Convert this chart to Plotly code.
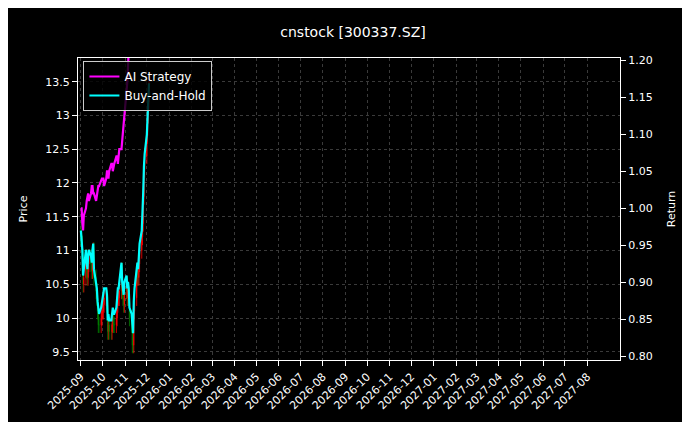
import pandas as pd
import plotly.graph_objects as go

close = [11.2,11.1,10.9,10.5,10.6,10.9,10.7,10.6,10.8,10.9,
         10.8,10.7,10.9,11.0,10.6,10.4,10.3,10.1,9.9,9.9,
         10.0,10.1,10.1,10.2,10.3,10.3,10.2,9.8,9.9,9.8,
         9.8,9.9,10.0,9.9,9.9,10.0,10.2,10.3,10.3,10.4,
         10.7,10.4,10.3,10.2,10.4,10.5,10.3,10.4,10.3,10.0,
         9.9,9.6,9.6,10.1,10.3,10.6,10.7,10.6,10.8,11.0,
         11.2,11.4,11.8,12.2,12.4,12.7,13.0,13.2,13.5]
ai = [1.00,1.00,0.98,0.97,0.99,1.00,1.01,1.02,1.02,1.01,
      1.02,1.03,1.03,1.02,1.02,1.01,1.02,1.03,1.03,1.03,
      1.04,1.04,1.04,1.04,1.03,1.04,1.05,1.05,1.04,1.05,
      1.06,1.06,1.05,1.06,1.06,1.07,1.07,1.06,1.07,1.08,
      1.08,1.09,1.10,1.12,1.13,1.15,1.17,1.19,1.21,1.24,
      1.25,1.25,1.25,1.27,1.28,1.30,1.31,1.30,1.32,1.34,
      1.36,1.38,1.41,1.45,1.47,1.50,1.54,1.56,1.60]
base_price = 11.55
dates = pd.bdate_range("2025-09-01", periods=len(close))
opens = [close[0] + 0.1] + close[:-1]
high = [max(o, c) + 0.12 for o, c in zip(opens, close)]
low = [min(o, c) - 0.12 for o, c in zip(opens, close)]
bh = [c / base_price for c in close]
ticks = pd.date_range("2025-09-01", "2027-08-01", freq="MS")

fig = go.Figure()
fig.add_trace(go.Candlestick(x=dates, open=opens, high=high, low=low, close=close,
    increasing=dict(line=dict(color="red", width=0.8), fillcolor="red"),
    decreasing=dict(line=dict(color="green", width=0.8), fillcolor="green"),
    showlegend=False, whiskerwidth=0))
fig.add_trace(go.Scatter(x=dates, y=ai, name="AI Strategy", yaxis="y2",
    line=dict(color="#ff00ff", width=2.2)))
fig.add_trace(go.Scatter(x=dates, y=bh, name="Buy-and-Hold", yaxis="y2",
    line=dict(color="#00ffff", width=2.2)))
grid = dict(showgrid=True, gridcolor="#3a3a3a", griddash="dot", gridwidth=1)
tf = dict(size=11)
fig.update_layout(
    width=690, height=422, paper_bgcolor="black", plot_bgcolor="black",
    font=dict(family="DejaVu Sans", color="white", size=11),
    title=dict(text="cnstock [300337.SZ]", x=0.5, xanchor="center", y=0.955, font=dict(size=14)),
    margin=dict(l=70, r=78, t=50, b=70),
    xaxis=dict(range=["2025-08-28", "2027-09-15"], tickvals=ticks, automargin=False,
               ticktext=[t.strftime("%Y-%m") for t in ticks], tickangle=-45,
               rangeslider=dict(visible=False), showline=True, linecolor="white",
               mirror=True, ticks="outside", tickcolor="white", tickfont=tf, **grid, zeroline=False),
    yaxis=dict(title=dict(text="Price", font=tf), range=[9.38, 13.85], dtick=0.5, showline=True,
               automargin=False, tickfont=tf,
               linecolor="white", ticks="outside", tickcolor="white", **grid, zeroline=False),
    yaxis2=dict(title=dict(text="Return", font=tf), overlaying="y", side="right", range=[0.795, 1.203],
                dtick=0.05, tickformat=".2f", showline=True, linecolor="white", automargin=False,
                tickfont=tf, ticks="outside", tickcolor="white", showgrid=False, zeroline=False),
    legend=dict(x=0.01, y=0.99, bgcolor="rgba(0,0,0,0.8)", bordercolor="#ccc",
                borderwidth=1, font=dict(size=12)),
)
fig.write_html("out.html")
